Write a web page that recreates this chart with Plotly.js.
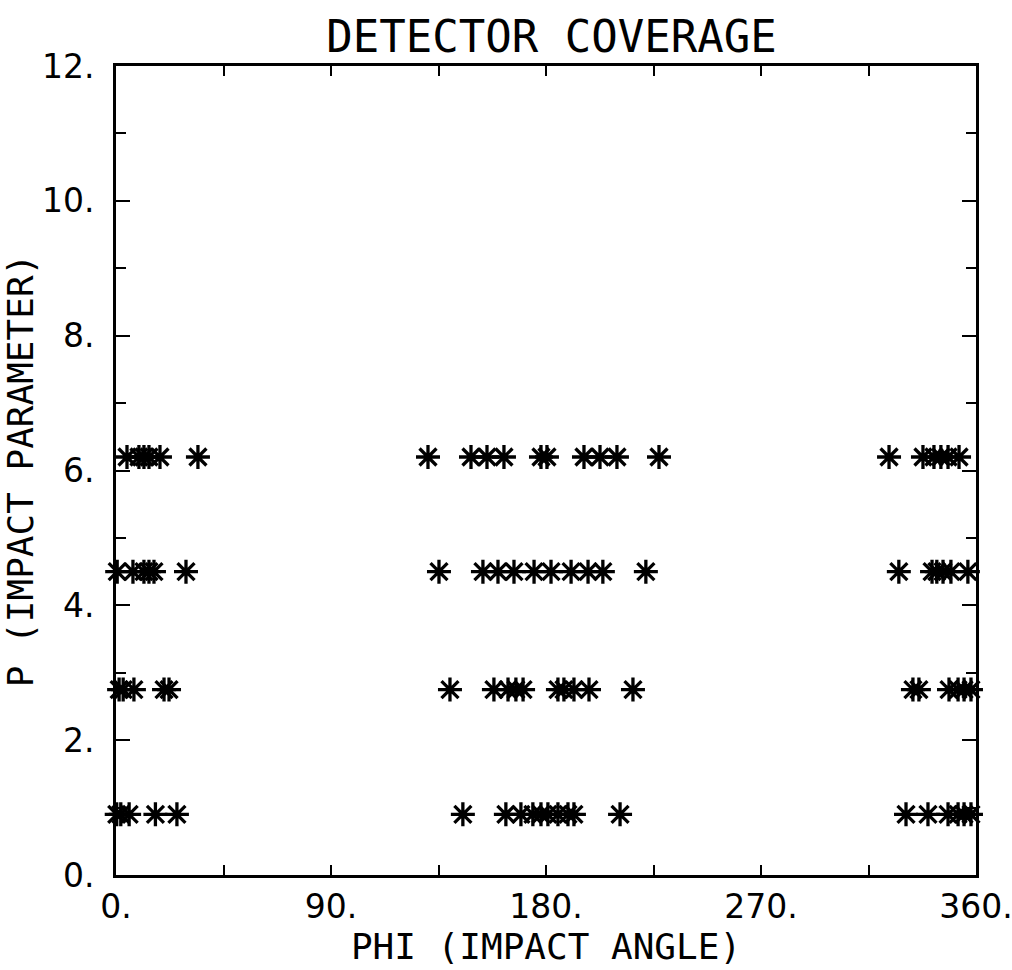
<!DOCTYPE html>
<html>
<head>
<meta charset="utf-8">
<script src="https://cdn.plot.ly/plotly-3.0.1.min.js"></script>
<style>
html,body{margin:0;padding:0;background:#fff;}
#chart{width:1012px;height:970px;}
</style>
</head>
<body>
<div id="chart"></div>
<script>
// Impact parameter rows (P) and impact angles (PHI, degrees)
var pRows = [6.2, 4.5, 2.75, 0.9];
var phiRow1 = [4.6, 9.6, 11.7, 13.8, 18.4, 34.3, 130.6, 148.6, 155.3, 162.4, 177.9, 180.4, 195.9, 202.6, 209.7, 227.3, 323.6, 337.8, 342.4, 345.3, 348.3, 352.9];
var phiRow2 = [0.5, 7.1, 11.7, 13.8, 15.9, 29.3, 135.2, 153.6, 159.9, 166.6, 175.0, 182.1, 190.5, 197.6, 203.8, 221.8, 327.7, 341.6, 343.6, 346.2, 349.5, 356.6];
var phiRow3 = [1.3, 3.0, 7.5, 20.1, 22.2, 139.8, 158.2, 164.1, 167.4, 170.4, 185.0, 187.5, 191.7, 198.0, 216.4, 333.6, 336.1, 348.7, 352.5, 355.0, 357.9];
var phiRow4 = [0.3, 2.0, 5.5, 16.5, 25.5, 145.2, 163.2, 169.5, 174.5, 177.9, 180.8, 185.0, 189.2, 191.7, 211.0, 330.7, 339.9, 348.3, 352.5, 355.0, 357.9];
var xTickVals = [0, 90, 180, 270, 360];
var xTickText = ['0.', '90.', '180.', '270.', '360.'];
var yTickVals = [0, 2, 4, 6, 8, 10, 12];
var yTickText = ['0.', '2.', '4.', '6.', '8.', '10.', '12.'];

var rows = [phiRow1, phiRow2, phiRow3, phiRow4];
var traces = rows.map(function (phis, i) {
  return {
    type: 'scatter',
    mode: 'markers',
    x: phis,
    y: phis.map(function () { return pRows[i]; }),
    cliponaxis: false,
    hoverinfo: 'x+y',
    marker: {
      symbol: 'asterisk-open',
      size: 20,
      color: '#000',
      line: {color: '#000', width: 3.3}
    },
    showlegend: false
  };
});

var tickFont = {family: 'DejaVu Sans, sans-serif', size: 33, color: '#000'};
var titleFont = {family: 'DejaVu Sans Mono, monospace', size: 36, color: '#000'};

var layout = {
  width: 1012,
  height: 970,
  paper_bgcolor: '#fff',
  plot_bgcolor: '#fff',
  margin: {l: 116, r: 36, t: 66, b: 95},
  title: {
    text: 'DETECTOR COVERAGE',
    font: {family: 'DejaVu Sans Mono, monospace', size: 44, color: '#000'},
    x: 0.545, xanchor: 'center',
    y: 0.962, yanchor: 'middle'
  },
  xaxis: {
    range: [0, 360],
    showgrid: false, zeroline: false,
    showline: true, linecolor: '#000', linewidth: 3, mirror: 'allticks',
    ticks: 'inside', ticklen: 10, tickwidth: 2, tickcolor: '#000',
    tickmode: 'array', tickvals: xTickVals, ticktext: xTickText,
    minor: {dtick: 45, tick0: 0, ticks: 'inside', ticklen: 10, tickwidth: 2, tickcolor: '#000', showgrid: false},
    tickfont: tickFont,
    ticklabeloverflow: 'allow',
    ticklabelstandoff: 0,
    title: {text: 'PHI (IMPACT ANGLE)', font: titleFont, standoff: 4}
  },
  yaxis: {
    range: [0, 12],
    showgrid: false, zeroline: false,
    showline: true, linecolor: '#000', linewidth: 3, mirror: 'allticks',
    ticks: 'inside', ticklen: 14, tickwidth: 2, tickcolor: '#000',
    tickmode: 'array', tickvals: yTickVals, ticktext: yTickText,
    minor: {dtick: 1, tick0: 0, ticks: 'inside', ticklen: 10, tickwidth: 2, tickcolor: '#000', showgrid: false},
    tickfont: tickFont,
    ticklabeloverflow: 'allow',
    ticklabelstandoff: 12,
    title: {text: 'P (IMPACT PARAMETER)', font: titleFont, standoff: 14}
  }
};

Plotly.newPlot('chart', traces, layout, {displayModeBar: false, staticPlot: true});
</script>
</body>
</html>
